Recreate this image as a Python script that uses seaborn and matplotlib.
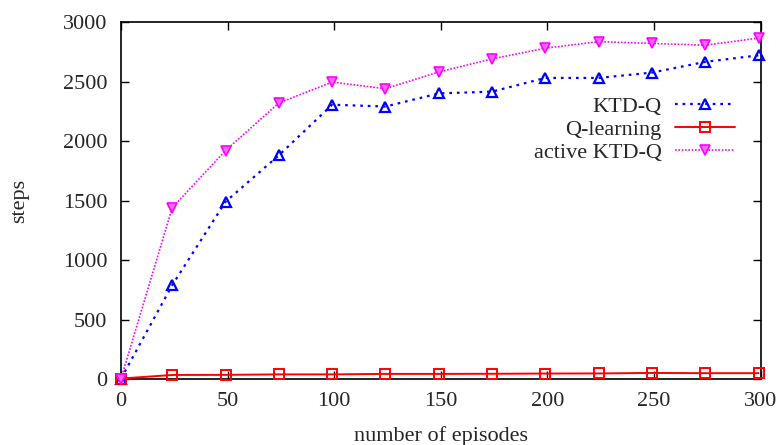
import pandas as pd
import matplotlib
matplotlib.use('Agg')
import matplotlib.pyplot as plt
import seaborn as sns

# episodes at which the runs were evaluated
episodios = [0, 24, 49, 74, 99, 124, 149, 174, 199, 224, 249, 274, 299]

ktd_q = [5, 790, 1490, 1880, 2305, 2290, 2400, 2415, 2530, 2530, 2575, 2665, 2720]
q_learning = [5, 35, 36, 40, 40, 44, 44, 45, 47, 48, 52, 50, 50]
active_ktd_q = [5, 1440, 1920, 2320, 2495, 2440, 2580, 2690, 2780, 2835, 2820, 2805, 2865]

dados = pd.DataFrame({
    'episodes': episodios * 3,
    'steps': ktd_q + q_learning + active_ktd_q,
    'metodo': ['KTD-Q'] * 13 + ['Q-learning'] * 13 + ['active KTD-Q'] * 13,
})

sns.set_style("ticks")
plt.rcParams['font.family'] = ['Liberation Serif', 'DejaVu Serif']

fig = plt.figure(figsize=(7.81, 4.45), dpi=100)
ax = fig.add_axes([0.155, 0.148, 0.819, 0.8026])

estilos = {
    'KTD-Q': dict(color='#0000ff', marker='^', dashes=(1.2, 2.2), lw=1.6,
                  mfc='none', mec='#0000ff', mew=1.6, ms=7),
    'Q-learning': dict(color='#ff0000', marker='s', dashes=None, lw=1.4,
                       mfc='none', mec='#ff0000', mew=1.4, ms=6.5),
    'active KTD-Q': dict(color='#ff00ff', marker='v', dashes=(1, 1), lw=1.2,
                         mfc='#ff66ff', mec='#ff00ff', mew=1.2, ms=7),
}

for nome in ['KTD-Q', 'Q-learning', 'active KTD-Q']:
    sub = dados[dados['metodo'] == nome]
    st = estilos[nome]
    sns.lineplot(data=sub, x='episodes', y='steps', ax=ax, label=nome,
                 color=st['color'], marker=st['marker'], lw=st['lw'],
                 mfc=st['mfc'], mec=st['mec'], mew=st['mew'], ms=st['ms'],
                 clip_on=False, zorder=3)
    if st['dashes'] is not None:
        ax.lines[-1].set_dashes(st['dashes'])

ax.set_xlim(0, 300)
ax.set_ylim(0, 3000)
ax.set_xticks(range(0, 301, 50))
ax.set_yticks(range(0, 3001, 500))
ax.tick_params(direction='in', length=6, width=1, top=True, right=True,
               labelsize=16, color='black')
ax.tick_params(axis='x', pad=9)
ax.tick_params(axis='y', pad=10)
for s in ax.spines.values():
    s.set_visible(True)
    s.set_color('black')
    s.set_linewidth(1.2)

ax.set_xlabel('number of episodes', fontsize=16, labelpad=11)
ax.set_ylabel('steps', fontsize=16)
ax.yaxis.set_label_coords(-0.143, 0.5)

leg = ax.legend(loc='upper right', bbox_to_anchor=(0.984, 0.835), frameon=False,
                markerfirst=False, fontsize=16, handlelength=2.7,
                labelspacing=0.1, handletextpad=0.6, borderaxespad=0.3)
# texto da legenda alinhado à direita
coluna = leg._legend_box._children[-1]._children[0]
coluna.align = 'right'

fig.savefig('out.png', dpi=100)
